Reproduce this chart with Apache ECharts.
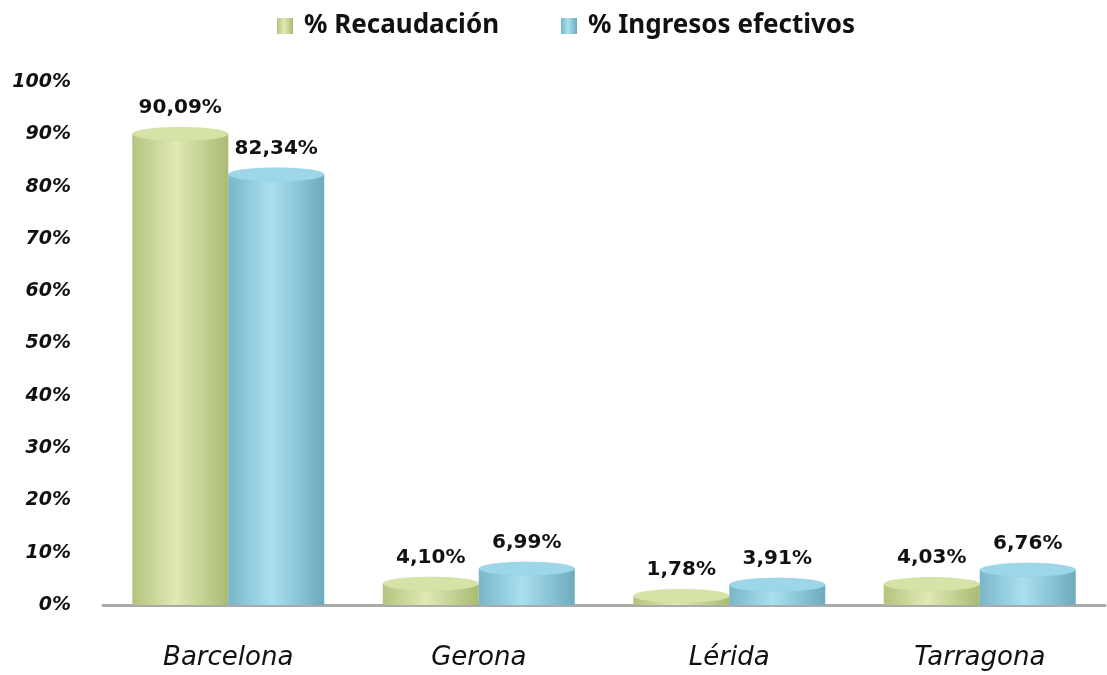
<!DOCTYPE html>
<html>
<head>
<meta charset="utf-8">
<script src="https://cdn.jsdelivr.net/npm/echarts@6/dist/echarts.min.js"></script>
<style>
  html, body { margin: 0; padding: 0; background: #fff; }
  #main { width: 1107px; height: 675px; }
</style>
</head>
<body>
<div id="main"></div>
<script>
// provincias y porcentajes
const provincias = ['Barcelona', 'Gerona', 'Lérida', 'Tarragona'];
const recaudacion = [90.09, 4.10, 1.78, 4.03];
const ingresos = [82.34, 6.99, 3.91, 6.76];
const serieNames = ['% Recaudación', '% Ingresos efectivos'];

const myChart = echarts.init(document.getElementById('main'));

const fmt = v => v.toFixed(2).replace('.', ',') + '%';

function cyl(a, b, c) {
    return new echarts.graphic.LinearGradient(0, 0, 1, 0, [
        { offset: 0, color: a },
        { offset: 0.45, color: b },
        { offset: 1, color: c }
    ]);
}
const green = cyl('#b4c47e', '#dfe9b5', '#a9bb72');
const blue = cyl('#79b6c9', '#a9e0ef', '#6eaabd');

const barW = 96;
const common = { barWidth: barW, barGap: '0%' };
const lbl = {
    show: true, position: 'top', distance: 16,
    formatter: p => fmt(p.value),
    fontFamily: 'DejaVu Sans', fontWeight: 'bold', fontSize: 20, color: '#111'
};

const option = {
    backgroundColor: '#fff',
    legend: {
        top: 8,
        left: 272,
        itemWidth: 16,
        itemHeight: 16,
        itemGap: 62,
        icon: 'rect',
        data: serieNames,
        textStyle: {
            fontFamily: 'Noto Sans', fontWeight: 'bold', fontSize: 26, color: '#111',
            padding: [0, 0, 0, 6]
        }
    },
    grid: { left: 103, right: 2, top: 82, bottom: 70 },
    xAxis: {
        type: 'category',
        data: provincias,
        axisTick: { show: false },
        axisLine: { lineStyle: { color: '#aaa', width: 3 } },
        axisLabel: {
            margin: 40,
            fontFamily: 'DejaVu Sans',
            fontStyle: 'italic',
            fontSize: 26,
            color: '#111'
        }
    },
    yAxis: {
        type: 'value',
        min: 0,
        max: 100,
        interval: 10,
        splitLine: { show: false },
        axisLine: { show: false },
        axisTick: { show: false },
        axisLabel: {
            margin: 32,
            formatter: '{value}%',
            fontFamily: 'DejaVu Sans',
            fontStyle: 'italic',
            fontWeight: 'bold',
            fontSize: 19,
            color: '#111'
        }
    },
    series: [
        {
            name: serieNames[0], type: 'bar', ...common,
            data: recaudacion,
            itemStyle: { color: green },
            label: lbl,
            z: 2
        },
        {
            name: serieNames[1], type: 'bar', ...common,
            data: ingresos,
            itemStyle: { color: blue },
            label: lbl,
            z: 2
        },
        {
            name: 'top1', type: 'pictorialBar', ...common,
            data: recaudacion,
            symbol: 'circle', symbolSize: [barW, 14], symbolPosition: 'end', symbolOffset: [0, '-50%'],
            itemStyle: { color: '#d6e3a6', borderColor: '#b9c985', borderWidth: 1 },
            z: 3, silent: true
        },
        {
            name: 'top2', type: 'pictorialBar', ...common,
            data: ingresos,
            symbol: 'circle', symbolSize: [barW, 14], symbolPosition: 'end', symbolOffset: [0, '-50%'],
            itemStyle: { color: '#9dd6e8', borderColor: '#7fbccf', borderWidth: 1 },
            z: 3, silent: true
        }
    ]
};

myChart.setOption(option);
</script>
</body>
</html>
